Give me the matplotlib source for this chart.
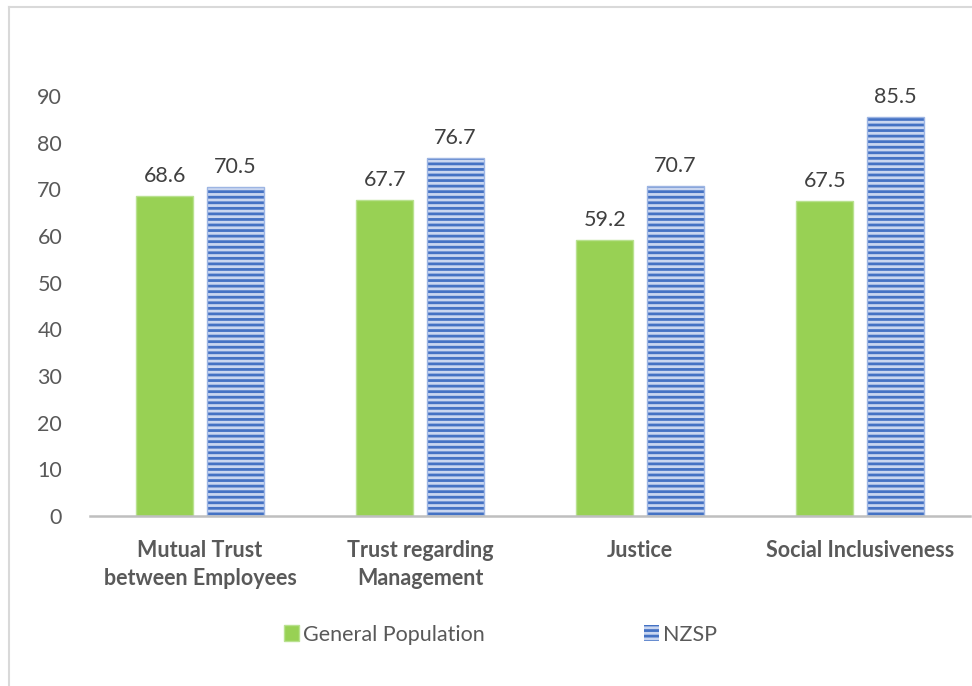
import matplotlib
matplotlib.use('Agg')
import matplotlib.pyplot as plt
import numpy as np
from matplotlib.lines import Line2D

# Data
categories = ['Mutual Trust\nbetween Employees', 'Trust regarding\nManagement',
              'Justice', 'Social Inclusiveness']
general_population = [68.6, 67.7, 59.2, 67.5]
nzsp = [70.5, 76.7, 70.7, 85.5]
series_names = ['General Population', 'NZSP']
y_ticks = [0, 10, 20, 30, 40, 50, 60, 70, 80, 90]

plt.rcParams['font.family'] = ['Lato', 'DejaVu Sans']
plt.rcParams['hatch.linewidth'] = 2.0

fig = plt.figure(figsize=(9.72, 6.86), dpi=100)
ax = fig.add_axes([90 / 972, (686 - 516) / 686, 880 / 972, 420 / 686])

x = np.arange(len(categories))
w = 0.26
off = 0.16
b1 = ax.bar(x - off, general_population, w, color='#98D154', edgecolor='#B9E190',
            linewidth=1.0, label=series_names[0])
# hatch takes the edge colour, so draw the blue stripes with no edge line
b2 = ax.bar(x + off, nzsp, w, color='#C9D6F0', edgecolor='#4472C4', linewidth=0,
            hatch='---', label=series_names[1])
# light outline on top
ax.bar(x + off, nzsp, w, fill=False, edgecolor='#9DB5E3', linewidth=1.0)

for bars in (b1, b2):
    for rect in bars:
        h = rect.get_height()
        ax.annotate(f'{h:.1f}', (rect.get_x() + rect.get_width() / 2, h),
                    xytext=(0, 7), textcoords='offset points', ha='center', va='bottom',
                    fontsize=15.5, color='#404040')

ax.set_xlim(-0.5, len(categories) - 0.5)
ax.set_ylim(0, 90)
ax.set_yticks(y_ticks)
ax.set_xticks(x)
ax.set_xticklabels(categories, fontsize=15.5, fontweight='bold', color='#595959',
                   linespacing=1.45)
ax.tick_params(axis='y', length=0, labelsize=15.5, labelcolor='#595959', pad=20)
ax.tick_params(axis='x', length=0, pad=17)

for s in ('top', 'right', 'left'):
    ax.spines[s].set_visible(False)
ax.spines['bottom'].set_color('#BFBFBF')
ax.spines['bottom'].set_linewidth(1.8)

fig.legend(handles=[b1, b2], labels=series_names, loc='center',
           bbox_to_anchor=(0.515, 0.075), ncol=2, frameon=False, fontsize=15.5,
           labelcolor='#595959', handlelength=0.7, handleheight=0.7,
           handletextpad=0.2, columnspacing=7.4)

# chart border
fig.add_artist(Line2D([9 / 972, 9 / 972], [0, (686 - 7) / 686], color='#D9D9D9',
                      linewidth=1.5, transform=fig.transFigure))
fig.add_artist(Line2D([9 / 972, 1], [(686 - 7) / 686, (686 - 7) / 686], color='#D9D9D9',
                      linewidth=1.5, transform=fig.transFigure))

fig.savefig('out.png', dpi=100)
